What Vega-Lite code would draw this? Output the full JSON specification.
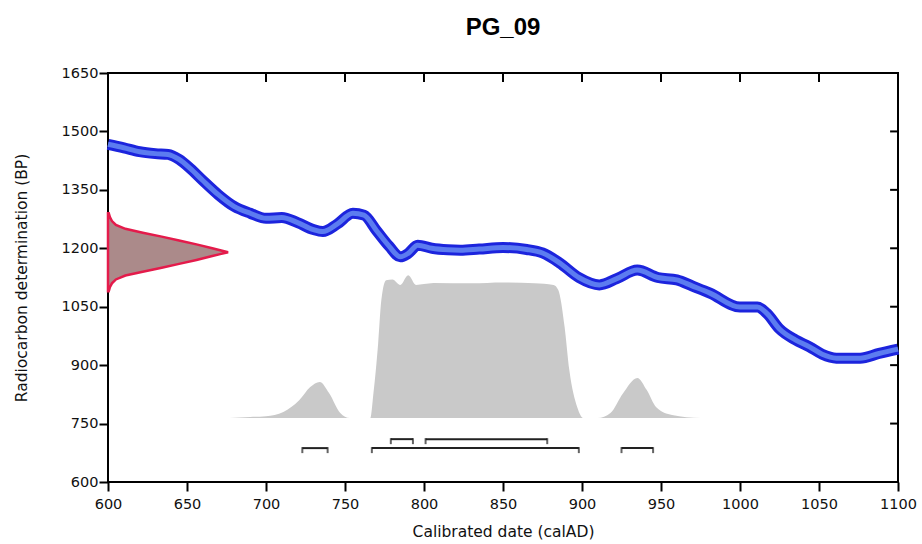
{
  "$schema": "https://vega.github.io/schema/vega-lite/v6.json",
  "width": 790,
  "height": 409,
  "autosize": "none",
  "padding": {"left": 108, "top": 73, "right": 24, "bottom": 62},
  "background": "white",
  "title": {
    "text": "PG_09",
    "fontSize": 24,
    "fontWeight": "bold",
    "font": "Liberation Sans",
    "anchor": "middle",
    "offset": 25,
    "color": "#000"
  },
  "datasets": {
    "curve": [
      {"date": 600, "bp": 1467}, {"date": 610, "bp": 1458}, {"date": 620, "bp": 1448},
      {"date": 630, "bp": 1443}, {"date": 638, "bp": 1441}, {"date": 645, "bp": 1428},
      {"date": 652, "bp": 1405}, {"date": 660, "bp": 1374}, {"date": 670, "bp": 1337},
      {"date": 680, "bp": 1307}, {"date": 690, "bp": 1290}, {"date": 700, "bp": 1277},
      {"date": 710, "bp": 1279}, {"date": 720, "bp": 1266}, {"date": 730, "bp": 1248},
      {"date": 736, "bp": 1243}, {"date": 745, "bp": 1262}, {"date": 755, "bp": 1290},
      {"date": 762, "bp": 1285}, {"date": 770, "bp": 1245}, {"date": 778, "bp": 1205},
      {"date": 785, "bp": 1178}, {"date": 790, "bp": 1187}, {"date": 796, "bp": 1208},
      {"date": 805, "bp": 1200}, {"date": 815, "bp": 1196}, {"date": 823, "bp": 1195},
      {"date": 835, "bp": 1198}, {"date": 850, "bp": 1202}, {"date": 865, "bp": 1197},
      {"date": 875, "bp": 1188}, {"date": 886, "bp": 1162}, {"date": 898, "bp": 1125},
      {"date": 911, "bp": 1106}, {"date": 922, "bp": 1122}, {"date": 935, "bp": 1144},
      {"date": 948, "bp": 1125}, {"date": 960, "bp": 1119}, {"date": 970, "bp": 1103},
      {"date": 981, "bp": 1085}, {"date": 1000, "bp": 1049}, {"date": 1011, "bp": 1049},
      {"date": 1017, "bp": 1033}, {"date": 1025, "bp": 993}, {"date": 1035, "bp": 965},
      {"date": 1044, "bp": 947}, {"date": 1052, "bp": 928}, {"date": 1061, "bp": 918},
      {"date": 1076, "bp": 918}, {"date": 1088, "bp": 930}, {"date": 1100, "bp": 941}
    ],
    "posterior": [
      {"date": 677, "p": 764}, {"date": 690, "p": 767}, {"date": 700, "p": 769},
      {"date": 711, "p": 780}, {"date": 721, "p": 810}, {"date": 728, "p": 844},
      {"date": 734, "p": 857}, {"date": 740, "p": 828}, {"date": 747, "p": 777},
      {"date": 753, "p": 764}, {"date": 760, "p": 764}, {"date": 766, "p": 764},
      {"date": 768, "p": 828}, {"date": 771, "p": 957}, {"date": 773, "p": 1067},
      {"date": 776, "p": 1118}, {"date": 780, "p": 1120}, {"date": 785, "p": 1106},
      {"date": 790, "p": 1131}, {"date": 795, "p": 1106}, {"date": 800, "p": 1108},
      {"date": 806, "p": 1111}, {"date": 830, "p": 1110}, {"date": 850, "p": 1112},
      {"date": 870, "p": 1110}, {"date": 882, "p": 1106}, {"date": 885, "p": 1093},
      {"date": 889, "p": 998}, {"date": 892, "p": 887}, {"date": 897, "p": 792},
      {"date": 901, "p": 764}, {"date": 910, "p": 764}, {"date": 918, "p": 777},
      {"date": 926, "p": 828}, {"date": 935, "p": 867}, {"date": 941, "p": 836},
      {"date": 947, "p": 792}, {"date": 957, "p": 772}, {"date": 975, "p": 764}
    ],
    "measurement": [
      {"bp": 1290, "w": 600.5}, {"bp": 1280, "w": 601.2}, {"bp": 1270, "w": 602.5},
      {"bp": 1260, "w": 605}, {"bp": 1250, "w": 611}, {"bp": 1240, "w": 622},
      {"bp": 1230, "w": 634}, {"bp": 1220, "w": 645}, {"bp": 1210, "w": 656},
      {"bp": 1200, "w": 666}, {"bp": 1195, "w": 671}, {"bp": 1190, "w": 676},
      {"bp": 1185, "w": 671}, {"bp": 1180, "w": 666}, {"bp": 1170, "w": 656},
      {"bp": 1160, "w": 645}, {"bp": 1150, "w": 634}, {"bp": 1140, "w": 622},
      {"bp": 1130, "w": 611}, {"bp": 1120, "w": 605}, {"bp": 1110, "w": 602.5},
      {"bp": 1100, "w": 601.2}, {"bp": 1090, "w": 600.5}
    ],
    "ranges": [
      {"row": 710, "from": 779, "to": 793},
      {"row": 710, "from": 801, "to": 878},
      {"row": 687, "from": 723, "to": 739},
      {"row": 687, "from": 767, "to": 898},
      {"row": 687, "from": 925, "to": 945}
    ]
  },
  "layer": [
    {
      "data": {"name": "posterior"},
      "mark": {"type": "area", "color": "#c9c9c9", "interpolate": "monotone"},
      "encoding": {
        "x": {
          "field": "date", "type": "quantitative",
          "scale": {"domain": [600, 1100], "nice": false},
          "axis": {
            "title": "Calibrated date (calAD)",
            "values": [600, 650, 700, 750, 800, 850, 900, 950, 1000, 1050, 1100],
            "format": "d",
            "labelFlush": false,
            "labelOverlap": false,
            "tickSize": 9,
            "labelPadding": 6,
            "titlePadding": 14
          }
        },
        "y": {
          "field": "p", "type": "quantitative",
          "scale": {"domain": [600, 1650], "nice": false, "zero": false},
          "axis": {
            "title": "Radiocarbon determination (BP)",
            "values": [600, 750, 900, 1050, 1200, 1350, 1500, 1650],
            "format": "d",
            "labelFlush": false,
            "labelOverlap": false,
            "tickSize": 9,
            "labelPadding": 1,
            "titlePadding": 32
          }
        },
        "y2": {"datum": 764}
      }
    },
    {
      "data": {"name": "measurement"},
      "mark": {"type": "area", "orient": "horizontal", "fill": "#ab8a8a", "stroke": "#e41b4b", "strokeWidth": 2.5},
      "encoding": {
        "y": {"field": "bp", "type": "quantitative"},
        "x": {"field": "w", "type": "quantitative"},
        "x2": {"datum": 600}
      }
    },
    {
      "data": {"name": "curve"},
      "mark": {"type": "line", "color": "#1c24dd", "strokeWidth": 11, "interpolate": "monotone", "strokeCap": "butt"},
      "encoding": {
        "x": {"field": "date", "type": "quantitative"},
        "y": {"field": "bp", "type": "quantitative"}
      }
    },
    {
      "data": {"name": "curve"},
      "mark": {"type": "line", "color": "#5c7cf0", "strokeWidth": 5, "interpolate": "monotone", "strokeCap": "butt"},
      "encoding": {
        "x": {"field": "date", "type": "quantitative"},
        "y": {"field": "bp", "type": "quantitative"}
      }
    },
    {
      "data": {"name": "ranges"},
      "mark": {"type": "rule", "color": "#222", "strokeWidth": 2},
      "encoding": {
        "x": {"field": "from", "type": "quantitative"},
        "x2": {"field": "to"},
        "y": {"field": "row", "type": "quantitative"}
      }
    },
    {
      "data": {"name": "ranges"},
      "transform": [{"fold": ["from", "to"], "as": ["end", "pos"]}],
      "mark": {"type": "tick", "orient": "vertical", "color": "#222", "size": 6, "thickness": 2, "yOffset": 2},
      "encoding": {
        "x": {"field": "pos", "type": "quantitative"},
        "y": {"field": "row", "type": "quantitative"}
      }
    },
    {
      "mark": {"type": "text", "align": "left", "baseline": "middle", "dy": -18, "fontSize": 15, "font": "DejaVu Sans", "color": "#111"},
      "encoding": {
        "x": {"datum": 600},
        "y": {"datum": 1650},
        "text": {"value": "1190 ± 30 BP"}
      }
    },
    {
      "mark": {"type": "text", "align": "right", "baseline": "middle", "dy": -18, "fontSize": 15, "font": "DejaVu Sans", "color": "#111"},
      "encoding": {
        "x": {"datum": 1100},
        "y": {"datum": 1650},
        "text": {"value": "Charred material"}
      }
    },
    {
      "mark": {"type": "rule", "color": "#000", "strokeWidth": 2},
      "data": {"values": [{"t": 650}, {"t": 700}, {"t": 750}, {"t": 800}, {"t": 850}, {"t": 900}, {"t": 950}, {"t": 1000}, {"t": 1050}]},
      "encoding": {
        "x": {"field": "t", "type": "quantitative"},
        "y": {"datum": 1650},
        "y2": {"datum": 1627}
      }
    },
    {
      "mark": {"type": "rule", "color": "#000", "strokeWidth": 2},
      "data": {"values": [{"t": 750}, {"t": 900}, {"t": 1050}, {"t": 1200}, {"t": 1350}, {"t": 1500}]},
      "encoding": {
        "y": {"field": "t", "type": "quantitative"},
        "x": {"datum": 1100},
        "x2": {"datum": 1095}
      }
    }
  ],
  "config": {
    "view": {"stroke": "#000", "strokeWidth": 2},
    "axis": {
      "domain": false,
      "grid": false,
      "tickColor": "#000",
      "tickWidth": 2,
      "labelFont": "DejaVu Sans",
      "labelFontSize": 14.5,
      "labelColor": "#111",
      "titleFont": "DejaVu Sans",
      "titleFontSize": 15.5,
      "titleFontWeight": "normal",
      "titleColor": "#111"
    }
  }
}
